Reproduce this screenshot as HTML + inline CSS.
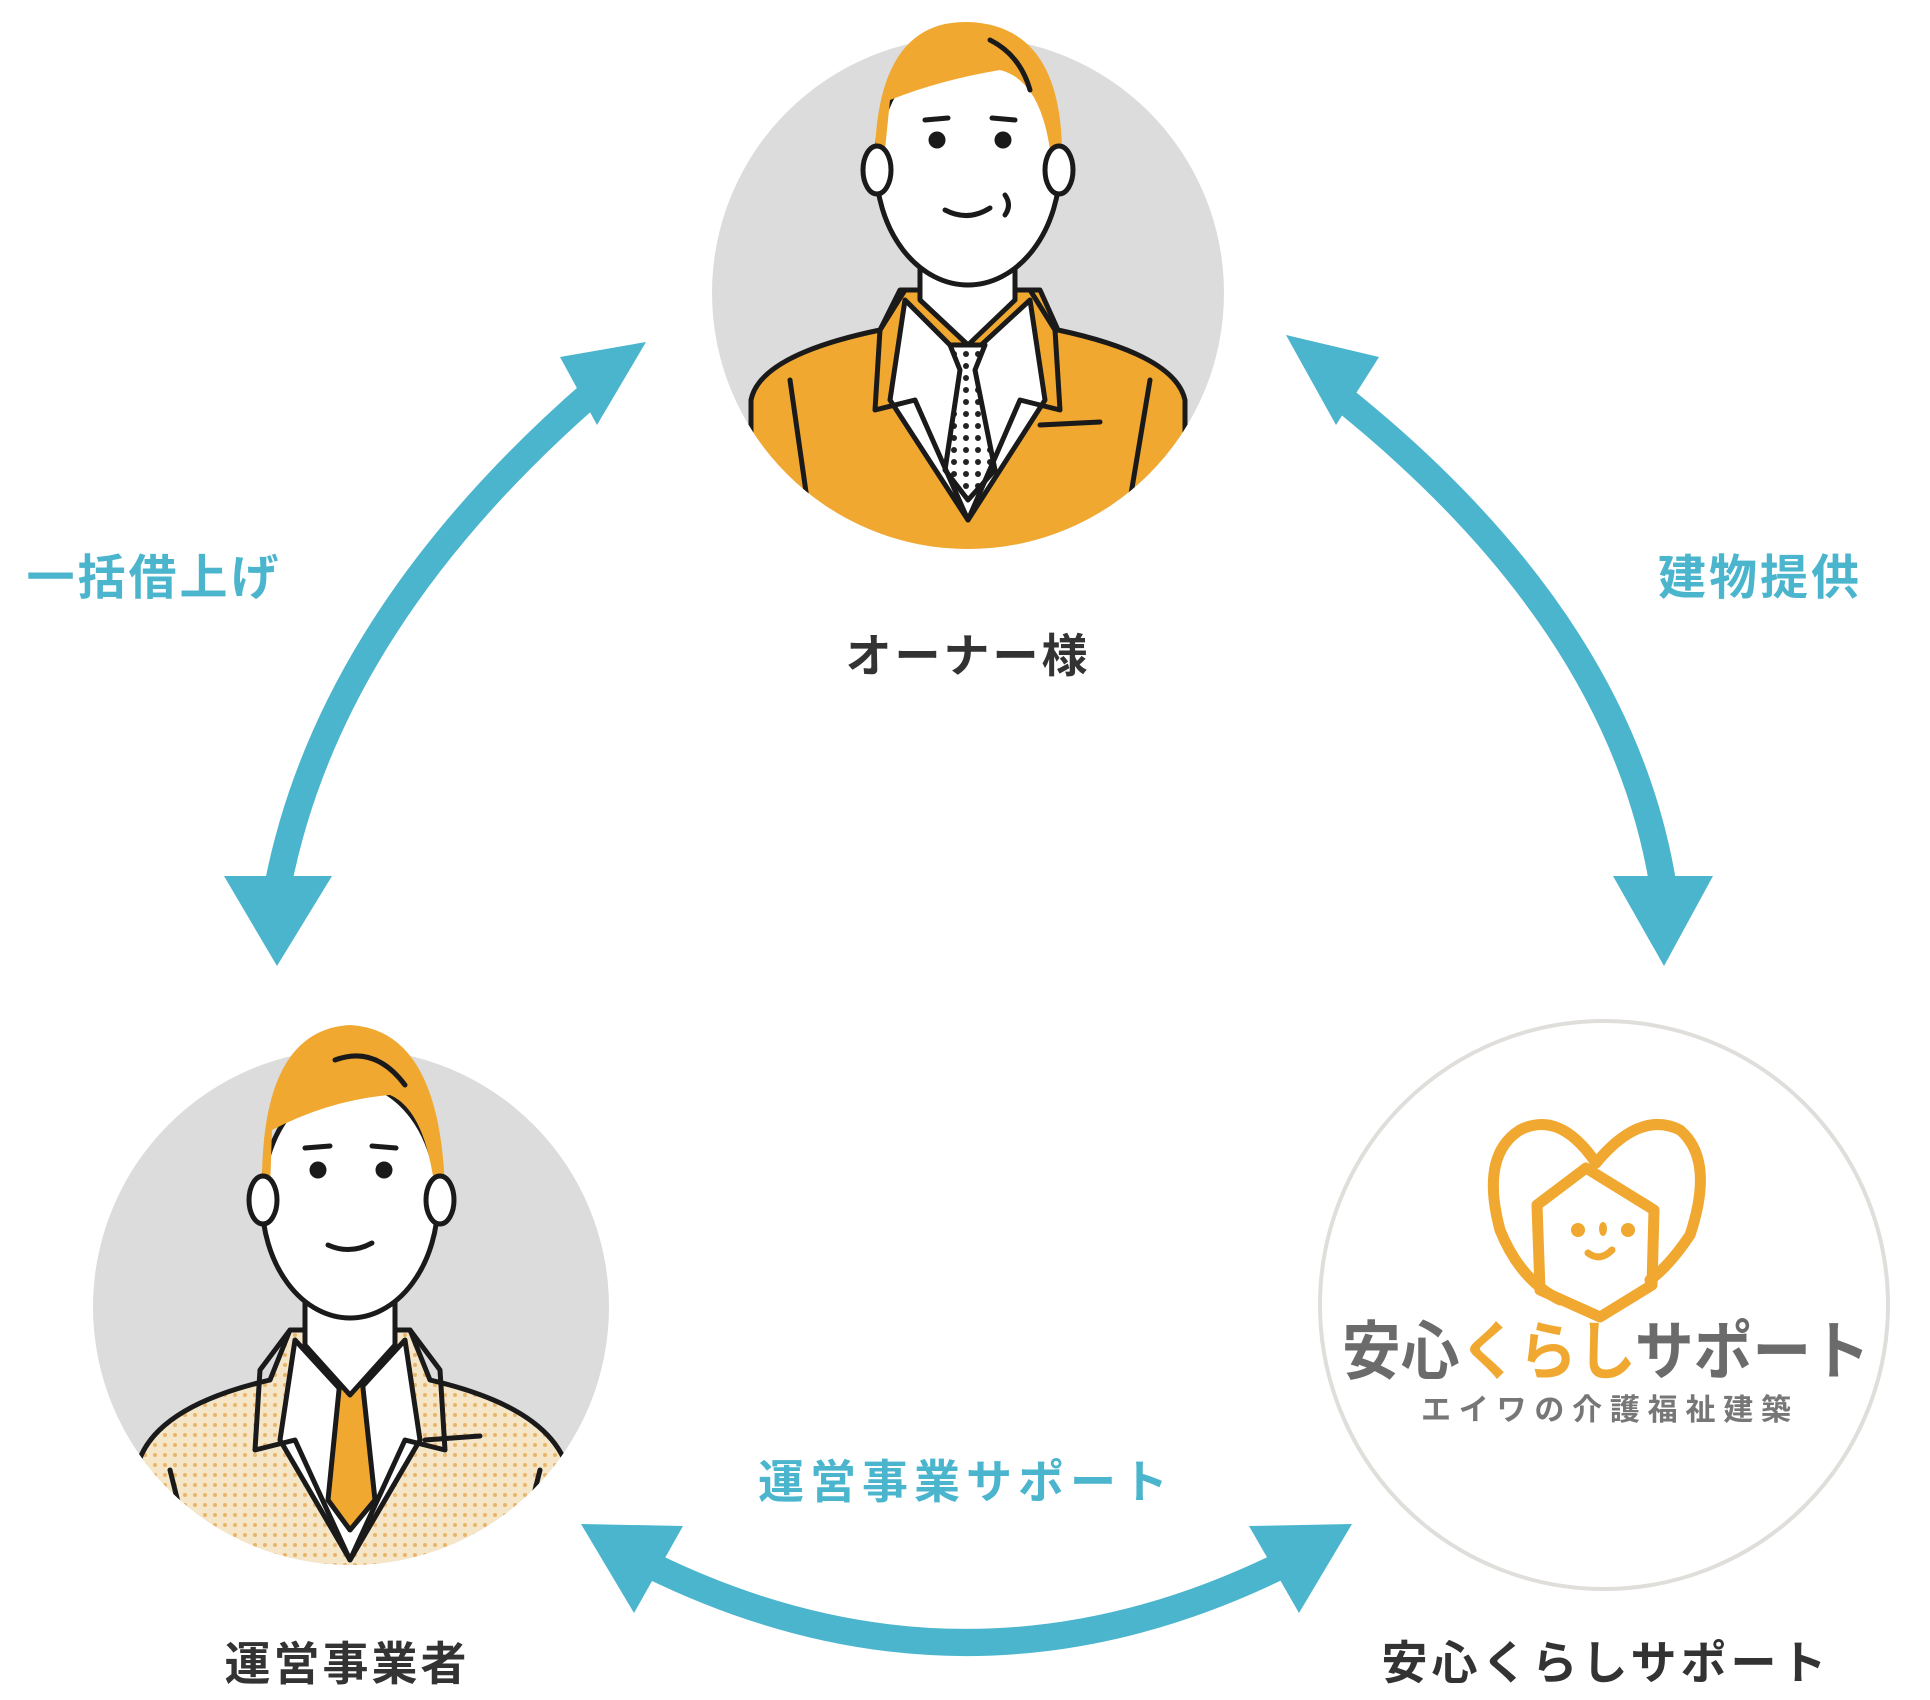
<!DOCTYPE html>
<html><head><meta charset="utf-8"><style>
html,body{margin:0;padding:0;background:#fff;}
svg{display:block;}
text{font-family:"Liberation Sans","Noto Sans CJK JP",sans-serif;font-weight:bold;}
</style></head><body>
<svg width="1930" height="1700" viewBox="0 0 1930 1700" xmlns="http://www.w3.org/2000/svg">
<defs>
<clipPath id="c1"><circle cx="968" cy="293" r="256"/><rect x="850" y="0" width="240" height="300"/></clipPath>
<clipPath id="c2"><circle cx="351" cy="1307" r="258"/><rect x="240" y="1000" width="220" height="300"/></clipPath>
<pattern id="dots" width="10" height="10" patternUnits="userSpaceOnUse"><rect width="10" height="10" fill="#f6e6c8"/><circle cx="5" cy="5" r="2" fill="#e9b46a"/></pattern>
<pattern id="tdots" width="12" height="12" patternUnits="userSpaceOnUse"><rect width="12" height="12" fill="#fff"/><circle cx="6" cy="6" r="3" fill="#222"/></pattern>
</defs>

<g fill="none" stroke="#4bb5cd" stroke-width="27">
<path d="M595,390 Q330,620 278,885"/>
<path d="M1338,395 Q1620,620 1663,885"/>
<path d="M650,1565 Q966,1720 1282,1565"/>
</g>
<g fill="#4bb5cd">
<polygon points="646,342 560,357 597,425"/>
<polygon points="277,966 224,876 332,876"/>
<polygon points="1286,335 1379,357 1336,425"/>
<polygon points="1664,966 1613,876 1713,876"/>
<polygon points="581,1524 683,1526 634,1613"/>
<polygon points="1352,1524 1249,1526 1299,1613"/>
</g>

<!-- Owner -->
<circle cx="968" cy="293" r="256" fill="#dcdcdc"/>
<g clip-path="url(#c1)" fill="none" stroke="#1a1a1a" stroke-width="5" stroke-linejoin="round" stroke-linecap="round">
<path d="M751,400 Q760,355 880,330 L900,290 L1040,290 L1058,330 Q1175,355 1185,400 L1185,600 L751,600 Z" fill="#f0a830"/>
<path d="M905,300 L965,360 L1030,300 L1045,400 L968,520 L890,400 Z" fill="#fff"/>
<path d="M950,345 L985,345 L975,370 L995,470 L968,500 L945,470 L960,370 Z" fill="url(#tdots)"/>
<path d="M905,290 L880,330 L875,410 L915,400 L968,520 L1020,400 L1060,410 L1055,330 L1030,290"/>
<path d="M1040,425 L1100,422"/>
<path d="M790,380 L810,520 M1150,380 L1125,530"/>
<path d="M920,240 L920,300 L968,345 L1015,300 L1015,240" fill="#fff"/>
<ellipse cx="968" cy="165" rx="92" ry="120" fill="#fff"/>
<path d="M875,150 Q880,20 968,22 Q1060,25 1062,150 L1050,150 Q1040,80 1000,70 Q940,80 890,100 L885,150 Z" fill="#f0a830" stroke="none"/>
<path d="M990,40 Q1020,55 1030,90"/>
<ellipse cx="877" cy="170" rx="14" ry="24" fill="#fff"/>
<ellipse cx="1059" cy="170" rx="14" ry="24" fill="#fff"/>
<circle cx="937" cy="140" r="6" fill="#1a1a1a"/><circle cx="1003" cy="140" r="6" fill="#1a1a1a"/>
<path d="M925,120 L948,118 M992,118 L1015,120"/>
<path d="M945,210 Q968,222 990,208"/>
<path d="M1005,195 Q1012,205 1005,215"/>
</g>
<text x="968" y="672" font-size="46" text-anchor="middle" fill="#333" letter-spacing="3">オーナー様</text>

<!-- Operator -->
<circle cx="351" cy="1307" r="258" fill="#dcdcdc"/>
<g clip-path="url(#c2)" fill="none" stroke="#1a1a1a" stroke-width="5" stroke-linejoin="round" stroke-linecap="round">
<path d="M135,1480 Q140,1410 270,1380 L290,1330 L410,1330 L430,1380 Q560,1410 570,1480 L570,1600 L135,1600 Z" fill="url(#dots)"/>
<path d="M295,1340 L350,1400 L405,1340 L420,1440 L350,1560 L280,1440 Z" fill="#fff"/>
<path d="M335,1335 L365,1335 L360,1360 L375,1500 L350,1530 L328,1500 L342,1360 Z" fill="#f0a830"/>
<path d="M290,1330 L260,1370 L255,1450 L295,1440 L350,1560 L405,1440 L445,1450 L440,1370 L410,1330"/>
<path d="M425,1440 L480,1436 M170,1470 L195,1570 M540,1470 L515,1570"/>
<path d="M305,1290 L305,1345 L350,1395 L395,1345 L395,1290" fill="#fff"/>
<ellipse cx="350" cy="1200" rx="88" ry="118" fill="#fff"/>
<path d="M262,1190 Q260,1030 350,1025 Q440,1030 445,1190 L435,1190 Q425,1110 390,1095 Q330,1100 272,1130 L270,1190 Z" fill="#f0a830" stroke="none"/>
<path d="M335,1060 Q375,1045 405,1085"/>
<ellipse cx="263" cy="1200" rx="14" ry="24" fill="#fff"/>
<ellipse cx="440" cy="1200" rx="14" ry="24" fill="#fff"/>
<circle cx="318" cy="1170" r="6" fill="#1a1a1a"/><circle cx="384" cy="1170" r="6" fill="#1a1a1a"/>
<path d="M305,1148 L330,1146 M372,1146 L396,1148"/>
<path d="M328,1245 Q350,1255 372,1243"/>
</g>
<text x="347" y="1680" font-size="46" text-anchor="middle" fill="#333" letter-spacing="3">運営事業者</text>

<!-- Logo circle -->
<circle cx="1604" cy="1305" r="284" fill="#fff" stroke="#e0dedb" stroke-width="4"/>
<g fill="none" stroke="#f0a830" stroke-width="11" stroke-linejoin="round" stroke-linecap="round">
<path d="M1596,1163 Q1560,1110 1520,1130 Q1480,1155 1500,1230 Q1520,1280 1560,1300"/>
<path d="M1596,1163 Q1640,1110 1680,1130 Q1715,1160 1690,1235 Q1670,1265 1650,1280"/>
<path d="M1537,1205 L1586,1168 L1654,1210 L1652,1285 L1600,1317 L1540,1290 Z"/>
<path d="M1588,1253 Q1600,1262 1612,1250" stroke-width="7"/>
</g>
<g fill="#f0a830"><circle cx="1578" cy="1230" r="7"/><circle cx="1628" cy="1230" r="7"/><ellipse cx="1603" cy="1229" rx="4" ry="7"/></g>
<text x="1606" y="1374" font-size="64" text-anchor="middle" fill="#6b6b6b" textLength="528" lengthAdjust="spacingAndGlyphs">安心<tspan fill="#f0a830">くらし</tspan>サポート</text>
<text x="1606" y="1420" font-size="30" text-anchor="middle" fill="#777" font-weight="normal" textLength="370" lengthAdjust="spacing">エイワの介護福祉建築</text>
<text x="1606" y="1679" font-size="46" text-anchor="middle" fill="#333" letter-spacing="4">安心くらしサポート</text>

<!-- Labels -->
<text x="154" y="594" font-size="48" text-anchor="middle" fill="#4bb5cd" letter-spacing="3">一括借上げ</text>
<text x="1760" y="594" font-size="48" text-anchor="middle" fill="#4bb5cd" letter-spacing="3">建物提供</text>
<text x="966" y="1498" font-size="46" text-anchor="middle" fill="#4bb5cd" letter-spacing="6">運営事業サポート</text>
</svg>
</body></html>
